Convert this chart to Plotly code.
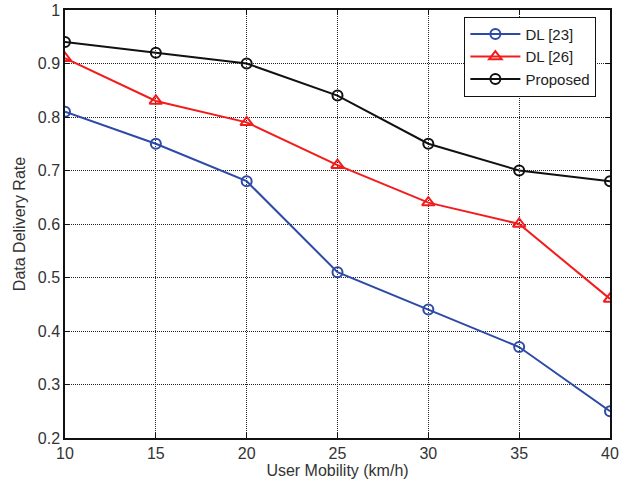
import plotly.graph_objects as go

mobility = [10, 15, 20, 25, 30, 35, 40]
dl23 = [0.81, 0.75, 0.68, 0.51, 0.44, 0.37, 0.25]
dl26 = [0.91, 0.83, 0.79, 0.71, 0.64, 0.60, 0.46]
proposed = [0.94, 0.92, 0.90, 0.84, 0.75, 0.70, 0.68]

fig = go.Figure()
fig.add_trace(go.Scatter(x=mobility, y=dl23, name="DL [23]", mode="lines+markers",
                         line=dict(color="#2D4BA6", width=2),
                         marker=dict(symbol="circle-open", size=10, color="#2D4BA6", line=dict(width=2))))
fig.add_trace(go.Scatter(x=mobility, y=dl26, name="DL [26]", mode="lines+markers",
                         line=dict(color="#F21C1C", width=2),
                         marker=dict(symbol="triangle-up-open", size=11, color="#F21C1C", line=dict(width=2))))
fig.add_trace(go.Scatter(x=mobility, y=proposed, name="Proposed", mode="lines+markers",
                         line=dict(color="#111111", width=2),
                         marker=dict(symbol="circle-open", size=10, color="#111111", line=dict(width=2))))

axis_common = dict(showline=True, linecolor="#111111", linewidth=1.5, mirror="ticks",
                   ticks="inside", ticklen=5, tickcolor="#111111", automargin=False,
                   showgrid=True, gridcolor="#222222", griddash="1px,1px", gridwidth=1,
                   zeroline=False, tickfont=dict(family="Liberation Sans, Arial", size=16, color="#333333"))

fig.update_layout(
    width=619, height=486,
    margin=dict(l=65, r=9, t=10, b=48),
    paper_bgcolor="white", plot_bgcolor="white",
    font=dict(family="Liberation Sans, Arial", color="#333333"),
    xaxis=dict(range=[10, 40], tickvals=[10, 15, 20, 25, 30, 35, 40],
               title=dict(text="User Mobility (km/h)", font=dict(size=16), standoff=2), **axis_common),
    yaxis=dict(range=[0.2, 1.0], tickvals=[0.2, 0.3, 0.4, 0.5, 0.6, 0.7, 0.8, 0.9, 1.0],
               ticktext=["0.2", "0.3", "0.4", "0.5", "0.6", "0.7", "0.8", "0.9", "1"],
               title=dict(text="Data Delivery Rate", font=dict(size=16), standoff=8), **axis_common),
    legend=dict(x=0.975, y=0.984, xanchor="right", yanchor="top", bgcolor="white",
                bordercolor="#111111", borderwidth=1, font=dict(size=15, color="#222222"),
                tracegroupgap=0, itemwidth=50),
    showlegend=True,
)

fig.write_html("out.html")
